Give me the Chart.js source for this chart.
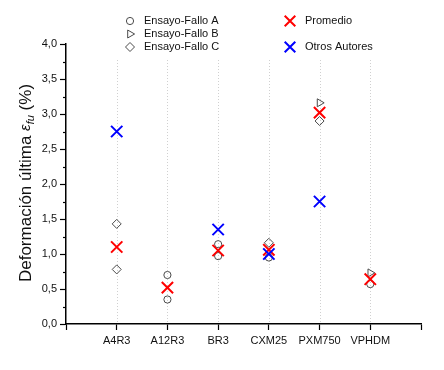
<!DOCTYPE html>
<html>
<head>
<meta charset="utf-8">
<script src="https://cdn.jsdelivr.net/npm/chart.js@4/dist/chart.umd.min.js"></script>
<style>
  html, body { margin: 0; padding: 0; background: #fff; }
  #wrap { width: 444px; height: 370px; position: relative; }
</style>
</head>
<body>
<div id="wrap"><canvas id="grafico"></canvas></div>
<script>
// categorias (x = 1..6 en un eje lineal de 0 a 7)
const categorias = ["A4R3", "A12R3", "BR3", "CXM25", "PXM750", "VPHDM"];

// ensayos individuales (puede haber varios por categoria)
const ensayoA = [[], [0.70, 0.35], [1.14, 0.97], [0.95], [], [0.57]];
const ensayoB = [[], [], [], [], [3.16], [0.73]];
const ensayoC = [[1.43, 0.78], [], [], [1.16], [2.90], []];

const promedio = [1.10, 0.52, 1.05, 1.06, 3.02, 0.64];
const otrosAutores = [2.75, null, 1.35, 1.00, 1.75, null];

const yTicks = [0, 0.5, 1, 1.5, 2, 2.5, 3, 3.5, 4];

function puntosMultiples(serie) {
  const pts = [];
  serie.forEach((vals, i) => vals.forEach(v => pts.push({ x: i + 1, y: v })));
  return pts;
}
function puntosSimples(serie) {
  return serie.map((v, i) => ({ x: i + 1, y: v })).filter(p => p.y !== null);
}

const gris = "#4a4a4a";
const fuente = "'Liberation Sans', Arial, sans-serif";

const datasets = [
  { label: "Ensayo-Fallo A", data: puntosMultiples(ensayoA), pointStyle: "circle", pointRadius: 3.6,
    borderColor: gris, backgroundColor: "rgba(255,255,255,0)", pointBorderWidth: 1, order: 4 },
  { label: "Ensayo-Fallo B", data: puntosMultiples(ensayoB), pointStyle: "triangle", pointRotation: 90, pointRadius: 4.6,
    borderColor: gris, backgroundColor: "rgba(255,255,255,0)", pointBorderWidth: 1, order: 3 },
  { label: "Ensayo-Fallo C", data: puntosMultiples(ensayoC), pointStyle: "rectRot", pointRadius: 4.5,
    borderColor: gris, backgroundColor: "rgba(255,255,255,0)", pointBorderWidth: 1, order: 2 },
  { label: "Promedio", data: puntosSimples(promedio), pointStyle: "crossRot", pointRadius: 8,
    borderColor: "#ff0000", backgroundColor: "#ff0000", pointBorderWidth: 2, order: 1 },
  { label: "Otros Autores", data: puntosSimples(otrosAutores), pointStyle: "crossRot", pointRadius: 8,
    borderColor: "#0000ff", backgroundColor: "#0000ff", pointBorderWidth: 2, order: 0 }
];

const extras = {
  id: "extras",
  beforeDatasetsDraw(chart) {
    const { ctx, chartArea, scales } = chart;
    const x = scales.x, y = scales.y;
    ctx.save();
    // lineas punteadas verticales en cada categoria
    ctx.strokeStyle = "#d0d0d0";
    ctx.lineWidth = 1;
    ctx.setLineDash([1, 2]);
    categorias.forEach((c, i) => {
      const px = Math.round(x.getPixelForValue(i + 1)) + 0.5;
      ctx.beginPath();
      ctx.moveTo(px, chartArea.top + 16);
      ctx.lineTo(px, chartArea.bottom);
      ctx.stroke();
    });
    ctx.setLineDash([]);
    // ticks menores del eje y
    ctx.strokeStyle = "#000";
    ctx.lineWidth = 1.2;
    for (let v = 0.25; v < 4; v += 0.5) {
      const py = Math.round(y.getPixelForValue(v)) + 0.5;
      ctx.beginPath();
      ctx.moveTo(chartArea.left - 3, py);
      ctx.lineTo(chartArea.left, py);
      ctx.stroke();
    }
    ctx.restore();
  },
  afterDraw(chart) {
    const { ctx, chartArea } = chart;
    const ds = chart.data.datasets;
    ctx.save();
    // leyenda
    const filas = [
      { d: ds[0], x: 130, y: 21 }, { d: ds[1], x: 130, y: 34 }, { d: ds[2], x: 130, y: 47 },
      { d: ds[3], x: 290, y: 21 }, { d: ds[4], x: 290, y: 47 }
    ];
    filas.forEach(f => {
      const esCruz = f.d.pointStyle === "crossRot";
      ctx.strokeStyle = f.d.borderColor;
      ctx.fillStyle = "rgba(0,0,0,0)";
      ctx.lineWidth = f.d.pointBorderWidth;
      Chart.helpers.drawPoint(ctx, {
        pointStyle: f.d.pointStyle,
        rotation: f.d.pointRotation || 0,
        radius: esCruz ? 7.5 : f.d.pointRadius,
        borderWidth: f.d.pointBorderWidth
      }, f.x, f.y);
      ctx.fillStyle = "#111";
      ctx.font = "11px " + fuente;
      ctx.textAlign = "left";
      ctx.textBaseline = "middle";
      ctx.fillText(f.d.label, f.x + (esCruz ? 15 : 14), f.y);
    });
    // titulo del eje y con subindice
    const cy = (chartArea.top + chartArea.bottom) / 2 - 1;
    ctx.translate(31, cy);
    ctx.rotate(-Math.PI / 2);
    ctx.fillStyle = "#111";
    ctx.textBaseline = "alphabetic";
    const p1 = "Deformación última ";
    const p2 = "ε";
    const p3 = "fu";
    const p4 = " (%)";
    const f1 = "17px " + fuente, f1i = "italic 15px " + fuente, fsub = "italic 11px " + fuente;
    ctx.font = f1; const w1 = ctx.measureText(p1).width, w4 = ctx.measureText(p4).width;
    ctx.font = f1i; const w2 = ctx.measureText(p2).width;
    ctx.font = fsub; const w3 = ctx.measureText(p3).width;
    let sx = -(w1 + w2 + w3 + w4) / 2;
    ctx.textAlign = "left";
    ctx.font = f1; ctx.fillText(p1, sx, 0); sx += w1;
    ctx.font = f1i; ctx.fillText(p2, sx, -1); sx += w2;
    ctx.font = fsub; ctx.fillText(p3, sx, 3); sx += w3;
    ctx.font = f1; ctx.fillText(p4, sx, 0);
    ctx.restore();
  }
};

new Chart(document.getElementById("grafico").getContext("2d"), {
  type: "scatter",
  data: { datasets: datasets },
  options: {
    responsive: true,
    maintainAspectRatio: false,
    animation: false,
    layout: { padding: { left: 0, right: 23, top: 44, bottom: 0 } },
    plugins: { legend: { display: false }, tooltip: { enabled: false } },
    scales: {
      x: {
        type: "linear", min: 0, max: 7,
        afterFit(s) { s.height = 46; },
        afterBuildTicks(s) { s.ticks = [0, 1, 2, 3, 4, 5, 6, 7].map(v => ({ value: v })); },
        ticks: {
          autoSkip: false, maxRotation: 0, padding: 4, color: "#111",
          font: { family: fuente, size: 11 },
          callback: v => (v >= 1 && v <= 6) ? categorias[v - 1] : ""
        },
        grid: { drawOnChartArea: false, tickLength: 6, tickColor: "#000", tickWidth: 1.2 },
        border: { color: "#000", width: 1.5 }
      },
      y: {
        min: 0, max: 4,
        afterFit(s) { s.width = 66; },
        afterBuildTicks(s) { s.ticks = yTicks.map(v => ({ value: v })); },
        ticks: {
          padding: 3, color: "#111",
          font: { family: fuente, size: 11 },
          callback: v => v.toFixed(1).replace(".", ",")
        },
        grid: { drawOnChartArea: false, tickLength: 6, tickColor: "#000", tickWidth: 1.2 },
        border: { color: "#000", width: 1.5 }
      }
    }
  },
  plugins: [extras]
});
</script>
</body>
</html>
